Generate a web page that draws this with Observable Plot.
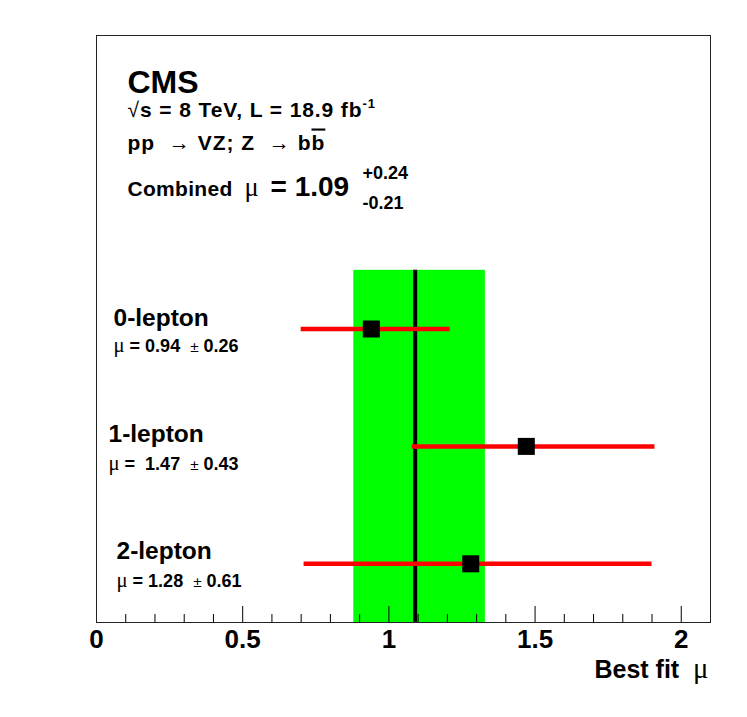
<!DOCTYPE html>
<html><head><meta charset="utf-8">
<script src="https://cdn.jsdelivr.net/npm/d3@7"></script>
<script src="https://cdn.jsdelivr.net/npm/@observablehq/plot@0.6"></script>
<style>
html,body{margin:0;padding:0;background:#fff;}
svg text{white-space:pre;}
</style></head><body><div id="chart"></div>
<script>
// ---- data ----
const channels = ["0-lepton", "1-lepton", "2-lepton"];
const muVals = [0.94, 1.47, 1.28];
const muErr = [0.26, 0.43, 0.61];
const barLo = [0.70, 1.08, 0.71];   // drawn error-bar extents
const barHi = [1.21, 1.91, 1.90];
const rowPos = [2.5, 1.5, 0.5];
const combined = 1.09, combUp = 0.24, combDown = 0.21;
const bandTop = 3;
const xMajor = [0, 0.5, 1, 1.5, 2];
const xMinor = d3.range(1, 21).map(i => i / 10).filter(v => Math.round(v * 10) % 5 !== 0);
const headerLines = ["CMS", "#sqrts = 8 TeV, L = 18.9 fb^{-1}", "pp  #to VZ; Z  #to b#bar{b}"];
const axisTitle = "Best fit  #mu";

const rows = channels.map((c, i) => ({channel: c, mu: muVals[i], err: muErr[i], lo: barLo[i], hi: barHi[i], pos: rowPos[i]}));

// ---- layout ----
const W = 747, H = 717, mL = 96, mR = 37, mT = 35, mB = 95;
const yMax = 5;
const pxPerY = (H - mT - mB) / yMax;
const majorLen = 16 / pxPerY, minorLen = 8 / pxPerY;

const spacing = new Map();
function label(text, px, py, o = {}, ls = 0) {
  if (ls) spacing.set(text, ls);
  return Plot.text([text], {text: d => d, frameAnchor: "top-left", dx: px - mL, dy: py - mT,
    textAnchor: "start", lineAnchor: "bottom", fill: "black", fontWeight: "bold", ...o});
}
const chanLayout = [
  {x: 113, y: 325, y2: 351, gap: " "},
  {x: 108, y: 441, y2: 469, gap: "  "},
  {x: 116, y: 558, y2: 586, gap: " "}
];

const marks = [
  Plot.rect([{}], {x1: combined - combDown, x2: combined + combUp, y1: 0, y2: bandTop, fill: "#00ff00"}),
  Plot.ruleX([combined], {y1: 0, y2: bandTop, stroke: "black", strokeWidth: 4}),
  Plot.ruleY(rows, {y: "pos", x1: "lo", x2: "hi", stroke: "#ff0000", strokeWidth: 4.5}),
  Plot.dot(rows, {x: "mu", y: "pos", symbol: "square", r: 9.6, fill: "black", stroke: null}),
  Plot.ruleX(xMajor, {y1: 0, y2: majorLen, stroke: "black", strokeWidth: 1}),
  Plot.ruleX(xMinor, {y1: 0, y2: minorLen, stroke: "black", strokeWidth: 1}),
  Plot.frame({stroke: "#222", strokeWidth: 1}),
  Plot.axisX(xMajor, {tickSize: 0, tickPadding: 7, fontSize: 26, fontWeight: "bold", fill: "black", tickFormat: d => String(d), label: null}),
  label(headerLines[0], 127, 92, {fontSize: 32}),
  label(headerLines[1], 127, 116, {fontSize: 21}, 0.9),
  label(headerLines[2], 127, 149, {fontSize: 21}, 1.0),
  label("Combined", 127, 195, {fontSize: 21}, 0.3),
  label("#mu", 244, 195, {fontSize: 23}),
  label("= " + combined.toFixed(2), 270, 195, {fontSize: 28}),
  label("+" + combUp.toFixed(2), 362, 178, {fontSize: 18}),
  label("-" + combDown.toFixed(2), 362, 208, {fontSize: 18}),
  ...rows.flatMap((r, i) => [
    label(r.channel, chanLayout[i].x, chanLayout[i].y, {fontSize: 24.5}),
    label(`#mu =${chanLayout[i].gap}${r.mu.toFixed(2)}  #pm ${r.err.toFixed(2)}`, chanLayout[i].x, chanLayout[i].y2, {fontSize: 18})
  ]),
  label(axisTitle, 708, 677, {fontSize: 25, textAnchor: "end"})
];

const chart = Plot.plot({
  width: W, height: H, marginLeft: mL, marginRight: mR, marginTop: mT, marginBottom: mB,
  x: {domain: [0, 2.1], axis: null},
  y: {domain: [0, yMax], axis: null},
  style: {fontFamily: "'Liberation Sans', Arial, Helvetica, sans-serif", background: "white", overflow: "visible"},
  marks
});
document.getElementById("chart").appendChild(chart);

// TLatex-like markup -> tspans
const NS = "http://www.w3.org/2000/svg";
chart.querySelectorAll("text").forEach(t => {
  const s = t.textContent;
  if (spacing.has(s)) t.setAttribute("letter-spacing", spacing.get(s));
  if (!/#|\^\{/.test(s)) return;
  const fs = parseFloat(getComputedStyle(t).fontSize);
  t.textContent = "";
  const re = /\^\{([^}]*)\}|#bar\{([^}]*)\}|#mu|#to|#pm|#sqrt|[^#^]+/g;
  let m, pending = 0;
  while ((m = re.exec(s))) {
    const ts = document.createElementNS(NS, "tspan");
    let dy = pending; pending = 0;
    const tok = m[0];
    if (m[1] !== undefined) {
      const up = fs * 0.42;
      ts.textContent = m[1]; ts.setAttribute("font-size", fs * 0.62);
      dy -= up; pending = up;
    } else if (m[2] !== undefined) {
      ts.textContent = m[2]; ts.setAttribute("text-decoration", "overline");
      ts.style.textDecoration = "overline";
    } else if (tok === "#mu") {
      ts.textContent = "μ"; ts.setAttribute("font-family", "'Liberation Serif', serif");
      ts.setAttribute("font-weight", "normal"); ts.setAttribute("font-size", fs * 1.15);
    } else if (tok === "#to") {
      ts.textContent = "→"; ts.setAttribute("font-weight", "normal");
    } else if (tok === "#pm") {
      ts.textContent = "±"; ts.setAttribute("font-weight", "normal"); ts.setAttribute("font-size", fs * 0.85);
    } else if (tok === "#sqrt") {
      ts.textContent = "√"; ts.setAttribute("font-weight", "normal");
    } else {
      ts.textContent = tok;
    }
    if (dy) ts.setAttribute("dy", dy);
    t.appendChild(ts);
  }
});
</script></body></html>
